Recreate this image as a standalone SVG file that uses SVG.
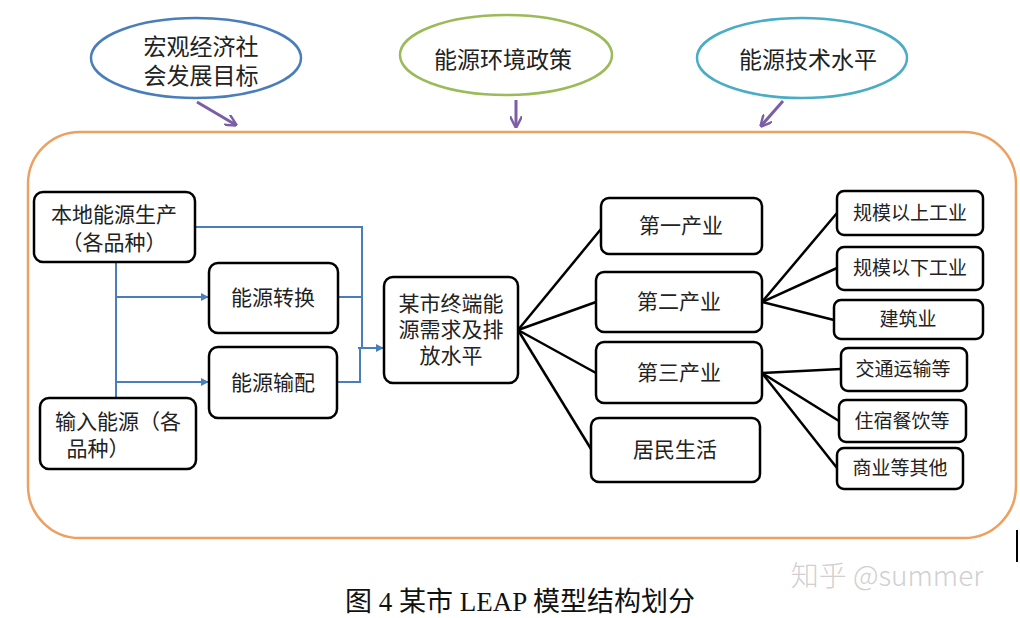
<svg xmlns="http://www.w3.org/2000/svg" width="1020" height="618" viewBox="0 0 1020 618">
<defs>
<style>
.t{font-family:"Noto Sans CJK SC","Liberation Sans",sans-serif;font-size:21px;fill:#222;text-anchor:middle}
.big{font-size:23px}
.sm{font-size:19px}
.box{fill:#fff;stroke:#000;stroke-width:2.5}
.blue{fill:none;stroke:#4a7ebb;stroke-width:2}
.blk{fill:none;stroke:#000;stroke-width:2.5}
.pur{fill:none;stroke:#7b5ea7;stroke-width:3}
</style>
<marker id="ab" viewBox="0 0 10 10" refX="9" refY="5" markerWidth="4" markerHeight="4" orient="auto" markerUnits="strokeWidth"><path d="M0,0 L10,5 L0,10 z" fill="#4a7ebb"/></marker>
<marker id="ap" viewBox="0 0 10 10" refX="9" refY="5" markerWidth="4" markerHeight="4" orient="auto" markerUnits="strokeWidth"><path d="M0,0 L10,5 L0,10" fill="none" stroke="#7b5ea7" stroke-width="2"/></marker>
</defs>
<rect width="1020" height="618" fill="#fff"/>

<g id="frame"><rect x="28" y="132" width="988" height="406" rx="52" ry="52" fill="none" stroke="#eda060" stroke-width="2.5"/></g>

<g id="e1"><ellipse cx="196" cy="58" rx="105" ry="40" fill="#fff" stroke="#4a7ebb" stroke-width="2.5"/>
<text class="t big" x="201" y="55">宏观经济社</text><text class="t big" x="201" y="84">会发展目标</text></g>
<g id="e2"><ellipse cx="506" cy="55" rx="106" ry="40" fill="#fff" stroke="#9bbb59" stroke-width="2.5"/>
<text class="t big" x="503" y="68">能源环境政策</text></g>
<g id="e3"><ellipse cx="802" cy="58" rx="105" ry="40" fill="#fff" stroke="#4bacc6" stroke-width="2.5"/>
<text class="t big" x="808" y="68">能源技术水平</text></g>

<g id="connectors">
<path class="pur" d="M197,102 L236,125" marker-end="url(#ap)"/>
<path class="pur" d="M516,100 L516,127" marker-end="url(#ap)"/>
<path class="pur" d="M783,101 L761,126" marker-end="url(#ap)"/>

<path class="blue" d="M195,227 H362 V348"/>
<path class="blue" d="M338,297 H362"/>
<path class="blue" d="M337,382 H360 V348"/>
<path class="blue" d="M358,348 H383" stroke-width="3" marker-end="url(#ab)"/>
<path class="blue" d="M116,262 V398"/>
<path class="blue" d="M116,297 H208" marker-end="url(#ab)"/>
<path class="blue" d="M116,382 H208" marker-end="url(#ab)"/>

<path class="blk" d="M518,330 L601,229"/>
<path class="blk" d="M518,330 L596,302"/>
<path class="blk" d="M518,330 L596,373"/>
<path class="blk" d="M518,330 L591,449"/>
<path class="blk" d="M762,302 L837,213"/>
<path class="blk" d="M762,302 L837,268"/>
<path class="blk" d="M762,302 L834,320"/>
<path class="blk" d="M762,373 L841,369"/>
<path class="blk" d="M762,373 L839,421"/>
<path class="blk" d="M762,373 L837,468"/>
</g>

<g id="n_local"><rect class="box" x="34" y="192" width="161" height="70" rx="9"/>
<text class="t" x="114" y="222">本地能源生产</text><text class="t" x="114" y="250">（各品种）</text></g>
<g id="n_conv"><rect class="box" x="209" y="263" width="129" height="70" rx="9"/>
<text class="t" x="273" y="305">能源转换</text></g>
<g id="n_dist"><rect class="box" x="209" y="347" width="128" height="71" rx="9"/>
<text class="t" x="273" y="390">能源输配</text></g>
<g id="n_import"><rect class="box" x="40" y="398" width="156" height="71" rx="9"/>
<text class="t" x="118" y="429">输入能源（各</text><text class="t" x="98" y="456">品种）</text></g>
<g id="n_center"><rect class="box" x="384" y="277" width="134" height="106" rx="9"/>
<text class="t" x="451" y="311">某市终端能</text><text class="t" x="451" y="337">源需求及排</text><text class="t" x="451" y="363">放水平</text></g>

<g id="n_p1"><rect class="box" x="601" y="198" width="161" height="56" rx="8"/><text class="t" x="681" y="233">第一产业</text></g>
<g id="n_p2"><rect class="box" x="596" y="272" width="166" height="60" rx="8"/><text class="t" x="679" y="309">第二产业</text></g>
<g id="n_p3"><rect class="box" x="596" y="342" width="166" height="61" rx="8"/><text class="t" x="679" y="380">第三产业</text></g>
<g id="n_res"><rect class="box" x="591" y="418" width="169" height="64" rx="8"/><text class="t" x="675" y="457">居民生活</text></g>

<g id="n_s1"><rect class="box" x="837" y="191" width="146" height="44" rx="7"/><text class="t sm" x="910" y="220">规模以上工业</text></g>
<g id="n_s2"><rect class="box" x="837" y="247" width="146" height="43" rx="7"/><text class="t sm" x="910" y="275">规模以下工业</text></g>
<g id="n_s3"><rect class="box" x="834" y="300" width="149" height="39" rx="7"/><text class="t sm" x="908" y="326">建筑业</text></g>
<g id="n_t1"><rect class="box" x="841" y="348" width="126" height="43" rx="7"/><text class="t sm" x="903" y="376">交通运输等</text></g>
<g id="n_t2"><rect class="box" x="839" y="400" width="127" height="42" rx="7"/><text class="t sm" x="902" y="428">住宿餐饮等</text></g>
<g id="n_t3"><rect class="box" x="837" y="448" width="126" height="41" rx="7"/><text class="t sm" x="900" y="475">商业等其他</text></g>

<text x="520" y="611" style="font-family:'Liberation Serif','Noto Sans CJK SC',serif;font-size:27px;fill:#111;text-anchor:middle">图 4  某市 LEAP 模型结构划分</text>
<text x="887" y="586" style="font-family:'Noto Sans CJK SC','Liberation Sans',sans-serif;font-size:28px;font-weight:300;fill:#d0d0d0;text-anchor:middle">知乎 @summer</text>
<line x1="1017" y1="530" x2="1017" y2="562" stroke="#000" stroke-width="2"/>
</svg>
